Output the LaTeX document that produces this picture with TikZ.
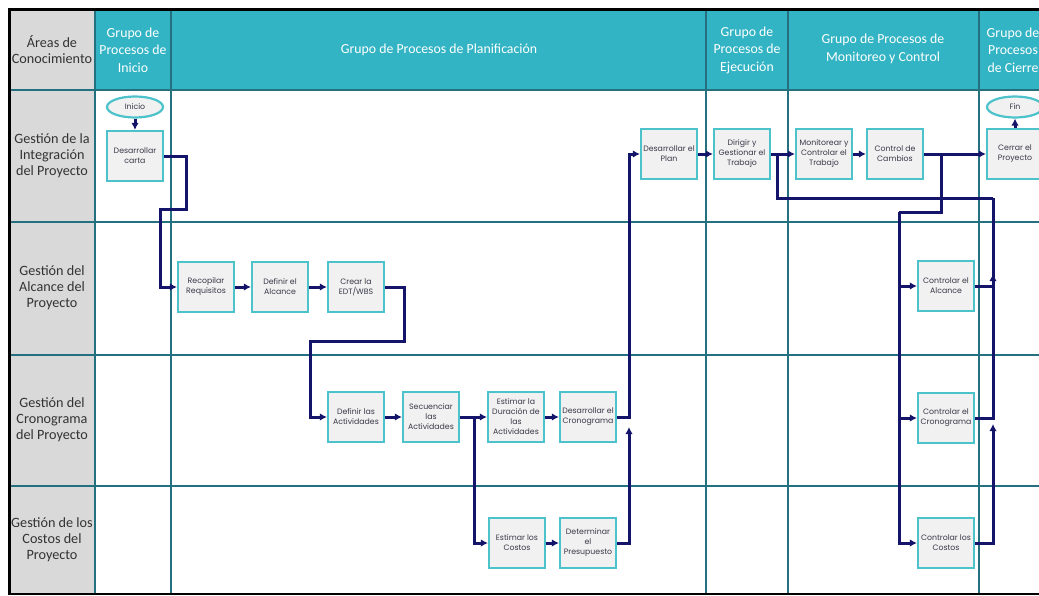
\documentclass[tikz,border=0pt]{standalone}
\usepackage{fontspec}
\setmainfont{Carlito}
\newfontfamily\boxfont{Poppins}
\usetikzlibrary{arrows.meta,shapes.geometric}
\definecolor{hdrteal}{HTML}{33B4C4}
\definecolor{boxteal}{HTML}{4CC2CA}
\definecolor{gridteal}{HTML}{25707E}
\definecolor{areagray}{HTML}{D9D9D9}
\definecolor{boxfill}{HTML}{F1F1F1}
\definecolor{boxtext}{HTML}{3A3A4A}
\definecolor{areatext}{HTML}{333333}
\definecolor{flownavy}{HTML}{14146B}
\tikzset{
  proc/.style={rectangle, draw=boxteal, line width=2.2pt, fill=boxfill,
    minimum width=56pt, minimum height=50pt, inner sep=0pt, align=center,
    text=boxtext, font=\boxfont\fontsize{7.8}{10}\selectfont},
  term/.style={ellipse, draw=boxteal, line width=2.2pt, fill=boxfill,
    minimum width=56pt, minimum height=21pt, inner sep=0pt,
    text=boxtext, font=\boxfont\fontsize{7.8}{10}\selectfont},
  flow/.style={draw=flownavy, line width=3pt, -{Latex[length=7pt,width=7.5pt]}},
  link/.style={draw=flownavy, line width=3pt},
  hdr/.style={text=white, align=center, font=\fontsize{13.8}{17.5}\selectfont},
  area/.style={text=areatext, align=center, font=\fontsize{14.2}{16}\selectfont},
  grid/.style={draw=gridteal, line width=1.5pt}
}
\begin{document}
\begin{tikzpicture}[x=1pt,y=-1pt]
\useasboundingbox (0,0) rectangle (1039,595);
\clip (0,0) rectangle (1039,595);
% backgrounds
\fill[white] (0,0) rectangle (1039,595);
\fill[areagray] (10,11) rectangle (95,593);
\fill[hdrteal] (95,11) rectangle (1060,90);
% grid
\foreach \gx in {95,171,706,788,979} \draw[grid] (\gx,11) -- (\gx,593);
\foreach \gy in {222,355,486} \draw[grid] (10,\gy) -- (1060,\gy);
\draw[draw=gridteal, line width=2pt] (10,90) -- (1060,90);
% frame
\draw[black, line width=3pt] (8,9.5) -- (1060,9.5);
\draw[black, line width=3pt] (9.5,8) -- (9.5,595);
\draw[black, line width=2pt] (8,593.5) -- (1060,593.5);
% headers
\node[area] (hAreas) at (52,50) {Áreas de\\Conocimiento};
\node[hdr] (hIni) at (133,50) {Grupo de\\Procesos de\\Inicio};
\node[hdr] (hPla) at (439,50) {Grupo de Procesos de Planificación};
\node[hdr] (hEje) at (747,50) {Grupo de\\Procesos de\\Ejecución};
\node[hdr] (hMon) at (883,49) {Grupo de Procesos de\\Monitoreo y Control};
\node[hdr] (hCie) at (1013,50) {Grupo de\\Procesos\\de Cierre};
% area labels
\node[area] (aInt) at (52,156) {Gestión de la\\Integración\\del Proyecto};
\node[area] (aAlc) at (52,288) {Gestión del\\Alcance del\\Proyecto};
\node[area] (aCro) at (52,420) {Gestión del\\Cronograma\\del Proyecto};
\node[area] (aCos) at (52,540) {Gestión de los\\Costos del\\Proyecto};
% process nodes
\node[term] (inicio) at (135,107) {Inicio};
\node[proc] (carta) at (135,156) {Desarrollar\\carta};
\node[proc] (recop) at (206,287) {Recopilar\\Requisitos};
\node[proc] (alc) at (280,287) {Definir el\\Alcance};
\node[proc] (edt) at (356,287) {Crear la\\EDT/WBS};
\node[proc] (defact) at (356,417) {Definir las\\Actividades};
\node[proc] (secu) at (431,417) {Secuenciar\\las\\Actividades};
\node[proc] (durac) at (516,417) {Estimar la\\Duración de\\las\\Actividades};
\node[proc] (crono) at (588,417) {Desarrollar el\\Cronograma};
\node[proc] (estcos) at (517,543) {Estimar los\\Costos};
\node[proc] (presu) at (588,543) {Determinar\\el\\Presupuesto};
\node[proc] (plan) at (669,154) {Desarrollar el\\Plan};
\node[proc] (dirigir) at (742,154) {Dirigir y\\Gestionar el\\Trabajo};
\node[proc] (monit) at (824,154) {Monitorear y\\Controlar el\\Trabajo};
\node[proc] (cambios) at (895,154) {Control de\\Cambios};
\node[proc] (cerrar) at (1015,154) {Cerrar el\\Proyecto};
\node[term] (fin) at (1015,107) {Fin};
\node[proc] (calc) at (946,286) {Controlar el\\Alcance};
\node[proc] (ccro) at (946,418) {Controlar el\\Cronograma};
\node[proc] (ccos) at (946,543) {Controlar los\\Costos};
% routing coordinates
\coordinate (c1) at (186,209);
\coordinate (c2) at (160,209);
\coordinate (c3) at (404,341);
\coordinate (c4) at (310,341);
\coordinate (b1) at (474,417);
\coordinate (c5) at (629,154);
\coordinate (c6) at (629,427);
\coordinate (b2) at (777,154);
\coordinate (c7) at (993,198);
\coordinate (c9) at (993,424);
\coordinate (c10) at (993,274);
\coordinate (b3) at (941,154);
\coordinate (c11) at (899,212);
% connectors
\draw[flow] (inicio) -- (carta);
\draw[flow] (carta.east) -| (c1) -- (c2) |- (recop.west);
\draw[flow] (recop) -- (alc);
\draw[flow] (alc) -- (edt);
\draw[flow] (edt.east) -| (c3) -- (c4) |- (defact.west);
\draw[flow] (defact) -- (secu);
\draw[flow] (secu) -- (durac);
\draw[flow] (b1) |- (estcos.west);
\draw[flow] (durac) -- (crono);
\draw[flow] (estcos) -- (presu);
\draw[flow] (crono.east) -| (c5) -- (plan.west);
\draw[flow] (presu.east) -| (c6);
\draw[flow] (plan) -- (dirigir);
\draw[flow] (dirigir) -- (monit);
\draw[flow] (monit) -- (cambios);
\draw[flow] (cambios) -- (cerrar);
\draw[flow] (cerrar) -- (fin);
\draw[link] (b2) |- (c7);
\draw[link] (calc.east) -| (c7);
\draw[flow] (ccro.east) -| (c10);
\draw[flow] (ccos.east) -| (c9);
\draw[link] (b3) |- (c11);
\draw[flow] (c11) |- (calc.west);
\draw[flow] (c11) |- (ccro.west);
\draw[flow] (c11) |- (ccos.west);
\end{tikzpicture}
\end{document}
